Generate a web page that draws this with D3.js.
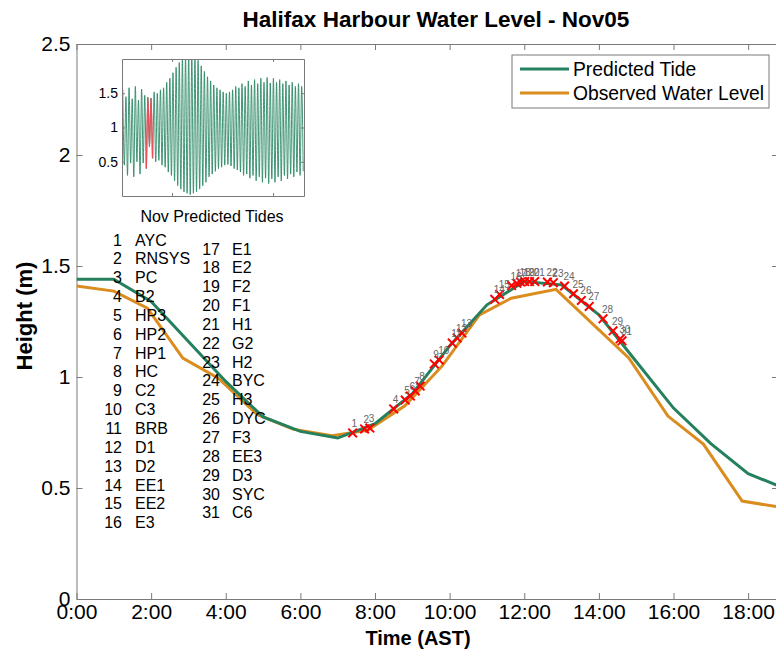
<!DOCTYPE html>
<html>
<head>
<meta charset="utf-8">
<script src="https://cdn.jsdelivr.net/npm/d3@7"></script>
<style>
  body { margin: 0; background: #fff; }
  text { font-family: Arial, "Liberation Sans", sans-serif; }
</style>
</head>
<body>
<div id="wrapper"></div>
<script>
// predicted tide, hourly (hours AST, metres)
const predTime = [0, 1, 2, 3, 4, 5, 6, 7, 8, 9, 10, 11, 12, 13, 14, 15, 16, 17, 18, 18.8];
const predHeight = [1.44, 1.44, 1.34, 1.16, 0.98, 0.82, 0.755, 0.725, 0.79, 0.925, 1.14, 1.325, 1.43, 1.415, 1.28, 1.07, 0.86, 0.70, 0.565, 0.51];

// observed water level
const obsTime = [0, 1, 1.9, 2.85, 3.8, 4.85, 5.8, 6.85, 7.8, 8.8, 9.8, 10.8, 11.65, 12.85, 14.8, 15.85, 16.8, 17.84, 18.8];
const obsHeight = [1.41, 1.387, 1.31, 1.085, 0.995, 0.83, 0.765, 0.735, 0.76, 0.87, 1.05, 1.28, 1.355, 1.395, 1.086, 0.824, 0.698, 0.441, 0.415];

// survey stations, in visiting order
const stations = ["AYC", "RNSYS", "PC", "B2", "HP3", "HP2", "HP1", "HC", "C2", "C3", "BRB",
  "D1", "D2", "EE1", "EE2", "E3", "E1", "E2", "F2", "F1", "H1", "G2", "H2", "BYC", "H3",
  "DYC", "F3", "EE3", "D3", "SYC", "C6"];
const stationTime = [7.40, 7.72, 7.86, 8.50, 8.81, 8.95, 9.08, 9.21, 9.59, 9.72, 10.07,
  10.20, 10.33, 11.21, 11.34, 11.66, 11.80, 11.90, 12.01, 12.14, 12.28, 12.62, 12.78,
  13.08, 13.32, 13.53, 13.74, 14.11, 14.38, 14.57, 14.62];
const stationHeight = [0.748, 0.766, 0.770, 0.856, 0.896, 0.914, 0.937, 0.959, 1.059, 1.077, 1.153,
  1.176, 1.198, 1.350, 1.372, 1.412, 1.422, 1.428, 1.43, 1.43, 1.43, 1.428, 1.425,
  1.41, 1.375, 1.345, 1.318, 1.262, 1.208, 1.172, 1.163];

// November predicted tide, alternating high / low extremes
const novHighs = [1.55, 1.45, 1.58, 1.42, 1.60, 1.40, 1.56, 1.47, 1.44, 1.43,
  1.52, 1.50, 1.55, 1.58, 1.66, 1.72, 1.80, 1.88, 1.95, 2.02,
  2.05, 2.08, 2.06, 2.03, 1.98, 1.90, 1.82, 1.74, 1.68, 1.62,
  1.58, 1.55, 1.52, 1.50, 1.52, 1.55, 1.60, 1.58, 1.64, 1.60,
  1.68, 1.62, 1.70, 1.64, 1.72, 1.66, 1.73, 1.65, 1.72, 1.66,
  1.70, 1.64, 1.68, 1.62, 1.66, 1.60, 1.64, 1.60];
const novLows = [0.45, 0.30, 0.48, 0.28, 0.50, 0.32, 0.48, 0.40, 0.72, 0.55,
  0.50, 0.52, 0.45, 0.42, 0.35, 0.30, 0.22, 0.15, 0.10, 0.06,
  0.04, 0.02, 0.04, 0.06, 0.10, 0.15, 0.20, 0.28, 0.32, 0.36,
  0.40, 0.42, 0.45, 0.46, 0.44, 0.40, 0.38, 0.35, 0.30, 0.32,
  0.26, 0.30, 0.22, 0.28, 0.20, 0.26, 0.18, 0.25, 0.20, 0.28,
  0.22, 0.30, 0.25, 0.32, 0.28, 0.35, 0.30, 0.36];

const xTicks = [0, 2, 4, 6, 8, 10, 12, 14, 16, 18];
const yTicks = [0, 0.5, 1, 1.5, 2, 2.5];
const insetYTicks = [0.5, 1, 1.5];
const insetXTicks = [8.25, 24.9];
const selectedDay = [4, 5];

const green = "#24805d";
const orange = "#db8c1f";
const axisGray = "#7a7a7a";

const dimensions = { width: 776, height: 653, left: 76.5, right: 778, top: 44, bottom: 599 };

function drawChart() {
  const svg = d3.select("#wrapper").append("svg")
    .attr("width", dimensions.width)
    .attr("height", dimensions.height);

  const xScale = d3.scaleLinear().domain([0, 18.8]).range([dimensions.left, dimensions.right]);
  const yScale = d3.scaleLinear().domain([0, 2.5]).range([dimensions.bottom, dimensions.top]);

  svg.append("defs").append("clipPath").attr("id", "plotClip")
    .append("rect")
    .attr("x", dimensions.left).attr("y", dimensions.top)
    .attr("width", dimensions.right - dimensions.left)
    .attr("height", dimensions.bottom - dimensions.top);

  // axes (box style, ticks pointing inward)
  const styleAxis = g => {
    g.select(".domain").attr("stroke", axisGray);
    g.selectAll(".tick line").attr("stroke", axisGray);
    g.selectAll("text").attr("fill", "#000").style("font-family", "Arial, 'Liberation Sans', sans-serif");
  };
  svg.append("g")
    .attr("transform", `translate(0,${dimensions.bottom})`)
    .call(d3.axisBottom(xScale).tickValues(xTicks).tickFormat(d => `${d}:00`)
      .tickSizeInner(-6).tickSizeOuter(0).tickPadding(5))
    .call(styleAxis)
    .selectAll("text").style("font-size", "21px");
  svg.append("g")
    .attr("transform", `translate(0,${dimensions.top})`)
    .call(d3.axisTop(xScale).tickValues(xTicks).tickFormat("").tickSizeInner(-6).tickSizeOuter(0))
    .call(styleAxis);
  svg.append("g")
    .attr("transform", `translate(${dimensions.left},0)`)
    .call(d3.axisLeft(yScale).tickValues(yTicks).tickFormat(d3.format("~g"))
      .tickSizeInner(-6).tickSizeOuter(0).tickPadding(6))
    .call(styleAxis)
    .selectAll("text").style("font-size", "21px");
  svg.append("g")
    .attr("transform", `translate(${dimensions.right},0)`)
    .call(d3.axisRight(yScale).tickValues(yTicks).tickFormat("").tickSizeInner(-6).tickSizeOuter(0))
    .call(styleAxis);

  // tide lines
  const plot = svg.append("g").attr("clip-path", "url(#plotClip)");
  const predLine = d3.line().x(i => xScale(predTime[i])).y(i => yScale(predHeight[i]));
  const obsLine = d3.line().x(i => xScale(obsTime[i])).y(i => yScale(obsHeight[i]));
  plot.append("path")
    .attr("d", obsLine(d3.range(obsTime.length)))
    .attr("fill", "none").attr("stroke", orange).attr("stroke-width", 3);
  plot.append("path")
    .attr("d", predLine(d3.range(predTime.length)))
    .attr("fill", "none").attr("stroke", green).attr("stroke-width", 3);

  // station markers
  const marker = d3.symbol(d3.symbolX, 50);
  const stationG = plot.append("g");
  stationG.selectAll("path")
    .data(stations)
    .join("path")
    .attr("d", marker)
    .attr("transform", (d, i) => `translate(${xScale(stationTime[i])},${yScale(stationHeight[i])})`)
    .attr("fill", "none").attr("stroke", "#ff0000").attr("stroke-width", 2);
  stationG.selectAll("text")
    .data(stations)
    .join("text")
    .attr("x", (d, i) => xScale(stationTime[i]) - 1)
    .attr("y", (d, i) => yScale(stationHeight[i]) - 6)
    .attr("fill", "#666")
    .style("font-size", "10px")
    .text((d, i) => i + 1);

  // station list
  const listG = svg.append("g").style("font-size", "16px");
  const columns = [
    { from: 0, to: 16, numX: 122, nameX: 135, y0: 245.5 },
    { from: 16, to: 31, numX: 220, nameX: 232, y0: 254.5 }
  ];
  columns.forEach(col => {
    const rows = stations.slice(col.from, col.to);
    listG.selectAll(null).data(rows).join("text")
      .attr("x", col.numX).attr("y", (d, i) => col.y0 + i * 18.85)
      .attr("text-anchor", "end")
      .text((d, i) => col.from + i + 1);
    listG.selectAll(null).data(rows).join("text")
      .attr("x", col.nameX).attr("y", (d, i) => col.y0 + i * 18.85)
      .text(d => d);
  });

  // legend
  const legend = svg.append("g");
  legend.append("rect")
    .attr("x", 512).attr("y", 55).attr("width", 257).attr("height", 53)
    .attr("fill", "#fff").attr("stroke", axisGray);
  const legendItems = [
    { label: "Predicted Tide", color: green, y: 69 },
    { label: "Observed Water Level", color: orange, y: 93 }
  ];
  legendItems.forEach(item => {
    legend.append("line")
      .attr("x1", 520).attr("x2", 569).attr("y1", item.y).attr("y2", item.y)
      .attr("stroke", item.color).attr("stroke-width", 3);
    legend.append("text")
      .attr("x", 573).attr("y", item.y).attr("dy", "0.36em")
      .style("font-size", "19.3px")
      .text(item.label);
  });

  // inset: November predicted tides
  const inset = { left: 122, right: 304, top: 59, bottom: 196 };
  const extremes = [];
  novHighs.forEach((h, i) => { extremes.push(h); extremes.push(novLows[i]); });
  const ixIndex = d3.scaleLinear().domain([0, extremes.length]).range([0, 30]);
  const ix = d3.scaleLinear().domain([0, 30]).range([inset.left, inset.right]);
  const iy = d3.scaleLinear().domain([0, 2]).range([inset.bottom, inset.top]);

  svg.append("clipPath").attr("id", "insetClip")
    .append("rect")
    .attr("x", inset.left).attr("y", inset.top)
    .attr("width", inset.right - inset.left).attr("height", inset.bottom - inset.top);
  svg.append("rect")
    .attr("x", inset.left).attr("y", inset.top)
    .attr("width", inset.right - inset.left).attr("height", inset.bottom - inset.top)
    .attr("fill", "#fff");

  const insetLine = d3.line()
    .x(i => ix(ixIndex(i + 0.5)))
    .y(i => iy(extremes[i]))
    .curve(d3.curveMonotoneX);
  const insetG = svg.append("g").attr("clip-path", "url(#insetClip)");
  insetG.append("path")
    .attr("d", insetLine(d3.range(extremes.length)))
    .attr("fill", "none").attr("stroke", "#2c8a66").attr("stroke-width", 1)
    .attr("stroke-opacity", 0.9);
  const dayIdx = d3.range(extremes.length)
    .filter(i => ixIndex(i + 0.5) >= selectedDay[0] - 0.15 && ixIndex(i + 0.5) <= selectedDay[1] + 0.15);
  insetG.append("path")
    .attr("d", insetLine(dayIdx))
    .attr("fill", "none").attr("stroke", "#e8505c").attr("stroke-width", 1.3);

  const insetAxis = g => {
    g.select(".domain").attr("stroke", axisGray);
    g.selectAll(".tick line").attr("stroke", axisGray);
  };
  svg.append("g").attr("transform", `translate(0,${inset.bottom})`)
    .call(d3.axisBottom(ix).tickValues(insetXTicks).tickFormat("").tickSizeInner(-3).tickSizeOuter(0))
    .call(insetAxis);
  svg.append("g").attr("transform", `translate(0,${inset.top})`)
    .call(d3.axisTop(ix).tickValues(insetXTicks).tickFormat("").tickSizeInner(-3).tickSizeOuter(0))
    .call(insetAxis);
  svg.append("g").attr("transform", `translate(${inset.left},0)`)
    .call(d3.axisLeft(iy).tickValues(insetYTicks).tickFormat(d3.format("~g"))
      .tickSizeInner(-3).tickSizeOuter(0).tickPadding(4))
    .call(insetAxis)
    .selectAll("text").attr("fill", "#000").style("font-size", "14px")
    .style("font-family", "Arial, 'Liberation Sans', sans-serif");
  svg.append("g").attr("transform", `translate(${inset.right},0)`)
    .call(d3.axisRight(iy).tickValues(insetYTicks).tickFormat("").tickSizeInner(-3).tickSizeOuter(0))
    .call(insetAxis);

  svg.append("text")
    .attr("x", 212).attr("y", 222)
    .attr("text-anchor", "middle")
    .style("font-size", "16px")
    .text("Nov Predicted Tides");

  // titles
  svg.append("text")
    .attr("x", 436).attr("y", 27)
    .attr("text-anchor", "middle")
    .style("font-size", "22.5px").style("font-weight", "bold")
    .text("Halifax Harbour Water Level - Nov05");
  svg.append("text")
    .attr("x", 418).attr("y", 645)
    .attr("text-anchor", "middle")
    .style("font-size", "20px").style("font-weight", "bold")
    .text("Time (AST)");
  svg.append("text")
    .attr("transform", "translate(32,316) rotate(-90)")
    .attr("text-anchor", "middle")
    .style("font-size", "22px").style("font-weight", "bold")
    .text("Height (m)");
}

drawChart();
</script>
</body>
</html>
